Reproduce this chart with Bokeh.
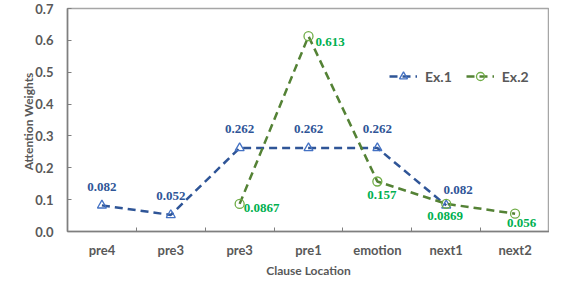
from bokeh.plotting import figure
from bokeh.models import (ColumnDataSource, FixedTicker, Legend, LegendItem,
                          LabelSet, Range1d)
from bokeh.embed import file_html
from bokeh.resources import INLINE

# ---- data ----
categories = ["pre4", "pre3", "pre3", "pre1", "emotion", "next1", "next2"]
ex1_values = [0.082, 0.052, 0.262, 0.262, 0.262, 0.082, None]
ex2_values = [None, None, 0.0867, 0.613, 0.157, 0.0869, 0.056]
ex1_labels = ["0.082", "0.052", "0.262", "0.262", "0.262", "0.082", None]
ex2_labels = [None, None, "0.0867", "0.613", "0.157", "0.0869", "0.056"]
y_ticks = [0.0, 0.1, 0.2, 0.3, 0.4, 0.5, 0.6, 0.7]

# label offsets (screen px) -- styling only
ex1_dx = [0, 0, 0, 0, 0, 12, 0]
ex1_dy = [18, 19, 19, 19, 19, 15, 0]
ex2_dx = [0, 0, 4, 7, -10, -19, -8]
ex2_dy = [0, 0, -4, -6, -14, -12, -9]

FONT = "Lato"
GRAY = "#595959"
BLUE_LINE = "#2F5597"
BLUE_MARK = "#4472C4"
GREEN_LINE = "#548235"
GREEN_MARK = "#70AD47"
GREEN_TXT = "#00B050"

xs = [i + 0.5 for i in range(len(categories))]

def src(values, labels, dx, dy):
    d = dict(x=[], y=[], t=[], dx=[], dy=[])
    for x, v, l, a, b in zip(xs, values, labels, dx, dy):
        if v is None:
            continue
        d["x"].append(x); d["y"].append(v); d["t"].append(l)
        d["dx"].append(a); d["dy"].append(b)
    return ColumnDataSource(d)

s1 = src(ex1_values, ex1_labels, ex1_dx, ex1_dy)
s2 = src(ex2_values, ex2_labels, ex2_dx, ex2_dy)

p = figure(width=549, height=280, output_backend="svg", toolbar_location=None,
           x_range=Range1d(0, len(categories)), y_range=Range1d(0, 0.7),
           min_border_left=67, min_border_right=0, min_border_top=8,
           min_border_bottom=5)
p.xgrid.grid_line_color = None
p.ygrid.grid_line_color = None
p.outline_line_color = "#A6A6A6"
p.outline_line_width = 1.5

# axes
p.xaxis.ticker = FixedTicker(ticks=xs, minor_ticks=list(range(1, len(categories))))
p.xaxis.major_label_overrides = {x: c for x, c in zip(xs, categories)}
p.xaxis.major_tick_line_color = None
p.xaxis.minor_tick_in = 4
p.xaxis.minor_tick_out = 0
p.xaxis.minor_tick_line_color = "#7F7F7F"
p.xaxis.axis_label = "Clause Location"

p.yaxis.ticker = FixedTicker(ticks=y_ticks)
p.yaxis.major_label_overrides = {t: f"{t:.1f}" for t in y_ticks}
p.yaxis.minor_tick_line_color = None
p.yaxis.major_tick_in = 4
p.yaxis.major_tick_out = 0
p.yaxis.major_tick_line_color = "#7F7F7F"
p.yaxis.axis_label = "Attention  Weights"

for ax in (p.xaxis[0], p.yaxis[0]):
    ax.axis_line_color = "#7F7F7F"
    ax.axis_line_width = 1.5
    ax.major_label_text_font = FONT
    ax.major_label_text_font_style = "bold"
    ax.major_label_text_font_size = "13px"
    ax.major_label_text_color = GRAY
    ax.axis_label_text_font = FONT
    ax.axis_label_text_font_style = "bold"
    ax.axis_label_text_font_size = "12px"
    ax.axis_label_text_color = GRAY
p.xaxis.major_label_standoff = 4
p.xaxis.axis_label_standoff = 2
p.yaxis.major_label_standoff = 14
p.yaxis.axis_label_standoff = -4

# series
l1 = p.line("x", "y", source=s1, line_color=BLUE_LINE, line_width=2.5, line_dash="8 5")
m1 = p.scatter("x", "y", source=s1, marker="triangle", size=9, fill_color=None,
               line_color=BLUE_MARK, line_width=1.3)
l2 = p.line("x", "y", source=s2, line_color=GREEN_LINE, line_width=2.5, line_dash="8 5")
m2 = p.scatter("x", "y", source=s2, marker="circle", size=9, fill_color=None,
               line_color=GREEN_MARK, line_width=1.3)

lab1 = LabelSet(x="x", y="y", text="t", source=s1, x_offset="dx", y_offset="dy",
                text_align="center", text_baseline="middle", text_font=FONT,
                text_font_style="bold", text_font_size="13px", text_color=BLUE_LINE)
lab2 = LabelSet(x="x", y="y", text="t", source=s2, x_offset="dx", y_offset="dy",
                text_align="left", text_baseline="middle", text_font=FONT,
                text_font_style="bold", text_font_size="13px", text_color=GREEN_TXT)
p.add_layout(lab1)
p.add_layout(lab2)

legend = Legend(items=[LegendItem(label="Ex.1", renderers=[l1, m1]),
                       LegendItem(label="Ex.2", renderers=[l2, m2])],
                orientation="horizontal", location=(322, 145),
                background_fill_alpha=0, border_line_color=None,
                label_text_font=FONT, label_text_font_style="bold",
                label_text_font_size="14px", label_text_color=GRAY,
                glyph_width=28, spacing=14, padding=4, label_standoff=8)
p.add_layout(legend, "center")

html = file_html(p, INLINE)
open("out.html", "w").write(html)
